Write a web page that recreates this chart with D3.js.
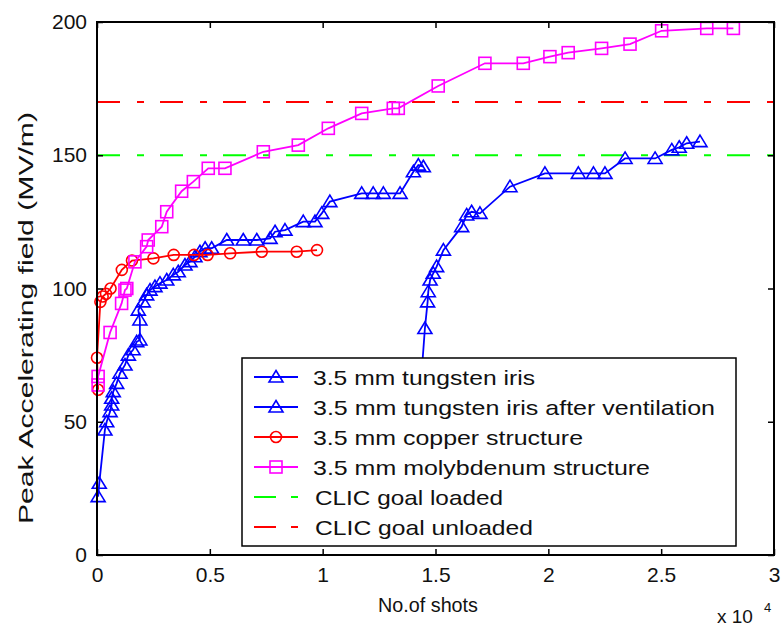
<!DOCTYPE html>
<html><head><meta charset="utf-8">
<script src="https://cdn.jsdelivr.net/npm/d3@7"></script>
<style>body{margin:0;background:#fff}svg{display:block}text{font-family:"Liberation Sans",Arial,sans-serif;fill:#111}</style>
</head><body><svg id="c" width="784" height="626"></svg>
<script>
const xTicks=[0,0.5,1,1.5,2,2.5,3];
const yTicks=[0,50,100,150,200];
const wX=[0.005,0.01,0.035,0.043,0.058,0.065,0.065,0.072,0.087,0.102,0.124,0.139,0.16,0.176,0.19,0.19,0.183,0.205,0.22,0.235,0.257,0.279,0.309,0.338,0.36,0.39,0.412,0.434,0.456,0.479,0.508,0.575,0.648,0.708,0.767,0.789,0.833,0.914,0.966,0.996,1.032,1.173,1.224,1.269,1.343,1.402,1.424,1.446];
const wY=[21.9,26.9,46.9,50,53.8,56.3,58.8,61.3,64.4,68.2,71.3,75,77,80,80.7,88.2,91.9,95,97.6,99.4,100.7,102,103.2,105.1,106.3,108.8,110.1,111.9,113.8,115.1,115.1,118.2,118.2,118.2,118.8,121.3,121.9,125.1,125.1,128.2,132.6,135.7,135.7,135.7,135.7,143.8,146.3,145.7];
const vX=[1.44,1.453,1.465,1.468,1.476,1.49,1.505,1.535,1.616,1.638,1.66,1.697,1.83,1.985,2.133,2.2,2.251,2.34,2.473,2.547,2.58,2.613,2.672];
const vY=[70,85,95,98.8,103.2,105.7,108.2,114.4,123.2,127.6,128.8,128.2,138.2,143.2,143.2,143.2,143.2,148.8,148.8,152,153,154.5,155.1];
const cX=[0.005,0.0,0.015,0.025,0.04,0.06,0.11,0.155,0.25,0.34,0.43,0.49,0.59,0.73,0.885,0.975];
const cY=[62,74,95,97,98,100,107,110.5,111.3,112.6,112.6,112.6,113.2,113.8,113.8,114.4];
const mX=[0.005,0.005,0.058,0.109,0.124,0.132,0.168,0.22,0.227,0.287,0.309,0.375,0.427,0.493,0.567,0.737,0.892,1.025,1.173,1.313,1.335,1.512,1.719,1.889,2.007,2.088,2.236,2.362,2.502,2.702,2.82];
const mY=[63.8,67,83.5,94.4,99.4,100,110,115.7,118.2,123.2,128.8,136.5,140.1,145.1,145.1,151.3,153.8,160.1,165.7,167.6,167.6,176,184.5,184.5,187,188.5,190.1,191.7,196.7,197.6,197.6];
const goalLoaded=150, goalUnloaded=170;
const legendLabels=["3.5 mm tungsten iris","3.5 mm tungsten iris after ventilation","3.5 mm copper structure","3.5 mm molybdenum structure","CLIC goal loaded","CLIC goal unloaded"];
const legendWidths=[222,402,270,337,188,218];

const svg=d3.select("#c");
const L=97,R=774,T=22,B=555;
const x=d3.scaleLinear().domain([0,3]).range([L,R]);
const y=d3.scaleLinear().domain([0,200]).range([B,T]);
const blue="#0000ff",red="#ff0000",mag="#ff00ff",green="#00ff00";
const dash="23,17,7,16";

[[goalLoaded,green],[goalUnloaded,red]].forEach(([v,c])=>{
  svg.append("line").attr("x1",x(0)).attr("x2",x(3)).attr("y1",y(v)).attr("y2",y(v))
   .attr("stroke",c).attr("stroke-width",2).attr("stroke-dasharray",dash);
});

function tri(g){g.append("path").attr("d","M0,-6.5L7,5L-7,5Z");}
function sq(g){g.append("rect").attr("x",-6).attr("y",-6).attr("width",12).attr("height",12);}
function circ(g){g.append("circle").attr("r",5.5);}

const series=[
 {xs:wX,ys:wY,c:blue,m:tri},
 {xs:vX,ys:vY,c:blue,m:tri},
 {xs:cX,ys:cY,c:red,m:circ},
 {xs:mX,ys:mY,c:mag,m:sq}
];
const line=d3.line().x(d=>x(d[0])).y(d=>y(d[1]));
series.forEach(s=>{
  const pts=s.xs.map((v,i)=>[v,s.ys[i]]);
  const g=svg.append("g");
  g.append("path").attr("d",line(pts)).attr("fill","none").attr("stroke",s.c).attr("stroke-width",1.8);
  pts.forEach(p=>{
    const mg=g.append("g").attr("transform",`translate(${x(p[0])},${y(p[1])})`).attr("fill","none").attr("stroke",s.c).attr("stroke-width",1.6);
    s.m(mg);
  });
});

svg.append("rect").attr("x",L).attr("y",T).attr("width",R-L).attr("height",B-T).attr("fill","none").attr("stroke","#000").attr("stroke-width",2);
const fmt=d3.format("~g");
svg.append("g").attr("transform",`translate(0,${B})`).call(d3.axisBottom(x).tickValues(xTicks).tickFormat(fmt).tickSize(-6).tickPadding(12));
svg.append("g").attr("transform",`translate(0,${T})`).call(d3.axisTop(x).tickValues(xTicks).tickFormat("").tickSize(-6));
svg.append("g").attr("transform",`translate(${L},0)`).call(d3.axisLeft(y).tickValues(yTicks).tickSize(-6).tickPadding(10));
svg.append("g").attr("transform",`translate(${R},0)`).call(d3.axisRight(y).tickValues(yTicks).tickFormat("").tickSize(-6));
svg.selectAll(".domain").remove();
svg.selectAll(".tick line").attr("stroke","#000").attr("stroke-width",1.5);
svg.selectAll(".tick text").attr("font-size",21).attr("fill","#111").attr("font-family",'"Liberation Sans",Arial,sans-serif');

svg.append("text").attr("x",428).attr("y",612).attr("text-anchor","middle").attr("font-size",20).attr("textLength",100).attr("lengthAdjust","spacingAndGlyphs").text("No.of shots");
svg.append("text").attr("transform","translate(33,318) rotate(-90)").attr("text-anchor","middle").attr("font-size",20).attr("textLength",412).attr("lengthAdjust","spacingAndGlyphs").text("Peak Accelerating field (MV/m)");
svg.append("text").attr("x",717).attr("y",623).attr("font-size",19).text("x 10");
svg.append("text").attr("x",764).attr("y",612).attr("font-size",13).text("4");

const lg=svg.append("g");
lg.append("rect").attr("x",242).attr("y",358).attr("width",494).attr("height",188).attr("fill","#fff").attr("stroke","#000").attr("stroke-width",1.5);
const lstyles=[{c:blue,m:tri},{c:blue,m:tri},{c:red,m:circ},{c:mag,m:sq},{c:green,d:true},{c:red,d:true}];
legendLabels.forEach((t,i)=>{
  const cy=377+i*30;
  const st=lstyles[i];
  if(st.d){
    lg.append("line").attr("x1",254).attr("x2",276).attr("y1",cy).attr("y2",cy).attr("stroke",st.c).attr("stroke-width",2);
    lg.append("line").attr("x1",291).attr("x2",298).attr("y1",cy).attr("y2",cy).attr("stroke",st.c).attr("stroke-width",2);
  } else {
    lg.append("line").attr("x1",254).attr("x2",298).attr("y1",cy).attr("y2",cy).attr("stroke",st.c).attr("stroke-width",1.8);
    const mg=lg.append("g").attr("transform",`translate(276,${cy})`).attr("fill","none").attr("stroke",st.c).attr("stroke-width",1.6);
    st.m(mg);
  }
  lg.append("text").attr("x",i>=4?315:313).attr("y",cy+8).attr("font-size",21).attr("textLength",legendWidths[i]).attr("lengthAdjust","spacingAndGlyphs").text(t);
});
</script></body></html>
